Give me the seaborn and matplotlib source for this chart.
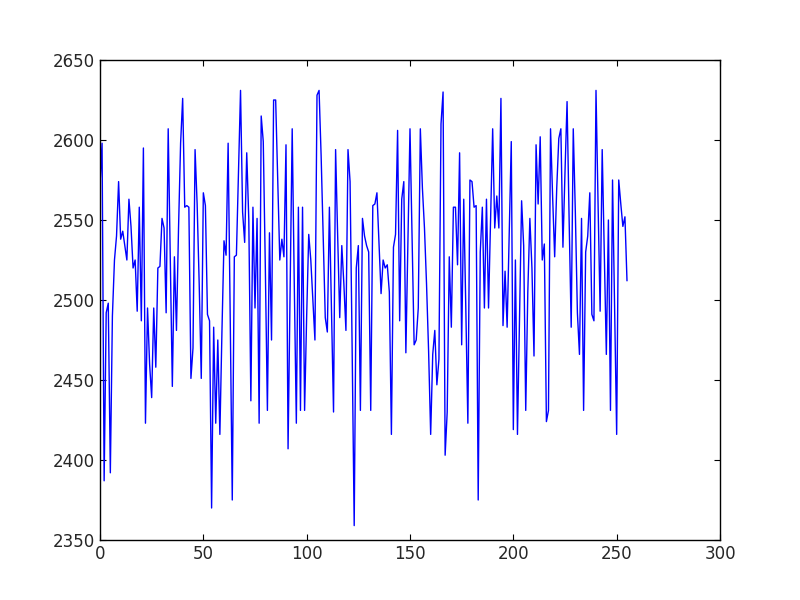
import numpy as np
import pandas as pd
import matplotlib
matplotlib.use("Agg")
import matplotlib.pyplot as plt
import seaborn as sns

# values, index 0..255
values = [
    2572, 2598, 2387, 2492, 2498, 2392, 2490, 2525, 2540, 2574,
    2538, 2543, 2534, 2525, 2563, 2546, 2520, 2525, 2493, 2558,
    2487, 2595, 2423, 2495, 2460, 2439, 2495, 2458, 2520, 2521,
    2551, 2545, 2492, 2607, 2525, 2446, 2527, 2481, 2545, 2598,
    2626, 2558, 2559, 2558, 2451, 2470, 2594, 2560, 2510, 2451,
    2567, 2559, 2491, 2487, 2370, 2483, 2423, 2475, 2416, 2480,
    2537, 2528, 2598, 2490, 2375, 2527, 2528, 2580, 2631, 2555,
    2536, 2592, 2550, 2437, 2558, 2495, 2551, 2423, 2615, 2599,
    2520, 2431, 2542, 2475, 2625, 2625, 2575, 2525, 2538, 2527,
    2597, 2407, 2507, 2607, 2510, 2423, 2558, 2431, 2558, 2431,
    2490, 2541, 2525, 2500, 2475, 2628, 2631, 2590, 2540, 2489,
    2480, 2558, 2494, 2430, 2594, 2540, 2489, 2534, 2510, 2481,
    2594, 2574, 2470, 2359, 2520, 2534, 2431, 2551, 2540, 2534,
    2530, 2431, 2559, 2560, 2567, 2535, 2504, 2525, 2520, 2522,
    2505, 2416, 2533, 2541, 2606, 2487, 2563, 2574, 2467, 2537,
    2607, 2540, 2472, 2475, 2495, 2607, 2570, 2545, 2510, 2468,
    2416, 2466, 2481, 2447, 2463, 2610, 2630, 2403, 2430, 2527,
    2483, 2558, 2558, 2522, 2592, 2472, 2563, 2495, 2423, 2575,
    2574, 2558, 2559, 2375, 2530, 2558, 2495, 2563, 2495, 2550,
    2607, 2545, 2565, 2545, 2626, 2484, 2518, 2483, 2540, 2599,
    2419, 2525, 2416, 2490, 2562, 2534, 2431, 2505, 2551, 2520,
    2465, 2597, 2560, 2602, 2525, 2535, 2424, 2431, 2607, 2565,
    2527, 2570, 2601, 2607, 2533, 2580, 2624, 2550, 2483, 2607,
    2555, 2492, 2466, 2551, 2431, 2530, 2540, 2567, 2491, 2487,
    2631, 2560, 2493, 2594, 2530, 2466, 2550, 2431, 2575, 2495,
    2416, 2575, 2560, 2546, 2552, 2512,
]
xticks = [0, 50, 100, 150, 200, 250, 300]
yticks = [2350, 2400, 2450, 2500, 2550, 2600, 2650]

df = pd.DataFrame({"x": np.arange(len(values)), "y": values})

sns.set_style("ticks")
plt.rcParams["font.family"] = ["DejaVu Sans"]
plt.rcParams["xtick.direction"] = "in"
plt.rcParams["ytick.direction"] = "in"
plt.rcParams["xtick.top"] = True
plt.rcParams["ytick.right"] = True

fig = plt.figure(figsize=(8, 6), dpi=100)
ax = fig.add_axes([0.125, 0.1, 0.775, 0.8])
sns.lineplot(data=df, x="x", y="y", ax=ax, color="#0000ff", linewidth=1.0)

ax.set_xlim(0, 300)
ax.set_ylim(2350, 2650)
ax.set_xticks(xticks)
ax.set_yticks(yticks)
ax.set_xlabel("")
ax.set_ylabel("")
ax.tick_params(labelsize=12, length=4, width=0.8, color="black")
for s in ax.spines.values():
    s.set_color("black")
    s.set_linewidth(1.0)

fig.savefig("out.png", dpi=100, facecolor="white")
